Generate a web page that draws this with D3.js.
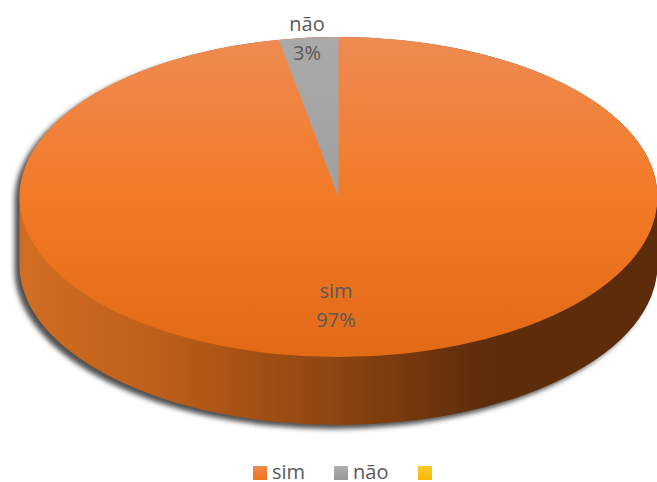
<!DOCTYPE html>
<html>
<head>
<meta charset="utf-8">
<script src="https://cdn.jsdelivr.net/npm/d3@7"></script>
<style>
html, body { margin: 0; padding: 0; background: #fff; }
text { font-family: "Open Sans", Lato, sans-serif; fill: #595959; }
</style>
</head>
<body>
<div class="chart"></div>
<script>
const categories = ['sim', 'não', ''];
const values = [97, 3, 0];
const percentLabels = ['97%', '3%'];

const width = 657;
const height = 482;

// ellipse of the pie top
const cx = 338.5;
const cy = 197;
const rx = 319;
const ry = 160;
const depth = 68;

const svg = d3.select('.chart')
    .append('svg')
    .attr('width', width)
    .attr('height', height)
    .style('display', 'block');

const defs = svg.append('defs');

const gradient = (id, horizontal, stops) => {
    const g = defs.append('linearGradient')
        .attr('id', id)
        .attr('x1', 0).attr('y1', 0)
        .attr('x2', horizontal ? 1 : 0)
        .attr('y2', horizontal ? 0 : 1);
    stops.forEach(s => g.append('stop').attr('offset', s[0]).attr('stop-color', s[1]));
};

gradient('topOrange', false, [[0, '#ee8b52'], [0.5, '#f27a26'], [1, '#e26a16']]);
gradient('topGray', false, [[0, '#a9a9a9'], [1, '#a0a0a0']]);
gradient('wall', true, [[0, '#d26e22'], [0.2, '#c0601a'], [0.5, '#8c4410'], [0.72, '#5e2d0b'], [1, '#5c2c0a']]);
gradient('swatchOrange', false, [[0, '#ef8a50'], [1, '#f0701c']]);
gradient('swatchGray', false, [[0, '#b0b0b0'], [1, '#989898']]);
gradient('swatchYellow', false, [[0, '#ffc92e'], [1, '#f7b900']]);

defs.append('filter')
    .attr('id', 'blur')
    .attr('x', '-5%').attr('y', '-5%').attr('width', '110%').attr('height', '110%')
    .append('feGaussianBlur')
    .attr('stdDeviation', 2.5);

// outline of the whole cylinder seen from above
const body = `M${cx - rx},${cy} A${rx},${ry} 0 0 1 ${cx + rx},${cy} `
    + `L${cx + rx},${cy + depth} A${rx},${ry} 0 0 1 ${cx - rx},${cy + depth} Z`;

// shadow
svg.append('path')
    .attr('d', body)
    .attr('transform', 'translate(-5, 4)')
    .attr('fill', '#333')
    .attr('opacity', 0.85)
    .attr('filter', 'url(#blur)');

// wall
svg.append('path')
    .attr('d', body)
    .attr('fill', 'url(#wall)');

// slices, starting at 12 o'clock and clockwise
const pie = d3.pie().sort(null)(values);
const arc = d3.arc().innerRadius(0).outerRadius(1);

// the orange gradient has to span the whole ellipse, so lay a full disc under the slices
svg.append('ellipse')
    .attr('cx', cx).attr('cy', cy).attr('rx', rx).attr('ry', ry)
    .attr('fill', 'url(#topOrange)');

svg.append('g')
    .attr('transform', `translate(${cx}, ${cy}) scale(${rx}, ${ry})`)
    .selectAll('path')
    .data(pie.slice(1, 2))
    .enter()
    .append('path')
    .attr('d', arc)
    .attr('fill', 'url(#topGray)');

// data labels
const labelPos = [[336, 298], [307, 31]];
const labels = svg.append('g')
    .attr('text-anchor', 'middle')
    .attr('font-size', 20);

percentLabels.forEach((p, i) => {
    labels.append('text').attr('x', labelPos[i][0]).attr('y', labelPos[i][1]).text(categories[i]);
    labels.append('text').attr('x', labelPos[i][0]).attr('y', labelPos[i][1] + 29).text(p);
});

// legend
const legendX = d3.scaleOrdinal().domain(categories).range([253, 334, 418]);
const swatches = ['url(#swatchOrange)', 'url(#swatchGray)', 'url(#swatchYellow)'];

const legend = svg.append('g')
    .selectAll('g')
    .data(categories)
    .enter()
    .append('g')
    .attr('transform', d => `translate(${legendX(d)}, 466)`);

legend.append('rect')
    .attr('width', 14)
    .attr('height', 14)
    .attr('fill', (d, i) => swatches[i]);

legend.append('text')
    .attr('x', 19)
    .attr('y', 13)
    .attr('font-size', 20)
    .text(d => d);
</script>
</body>
</html>
